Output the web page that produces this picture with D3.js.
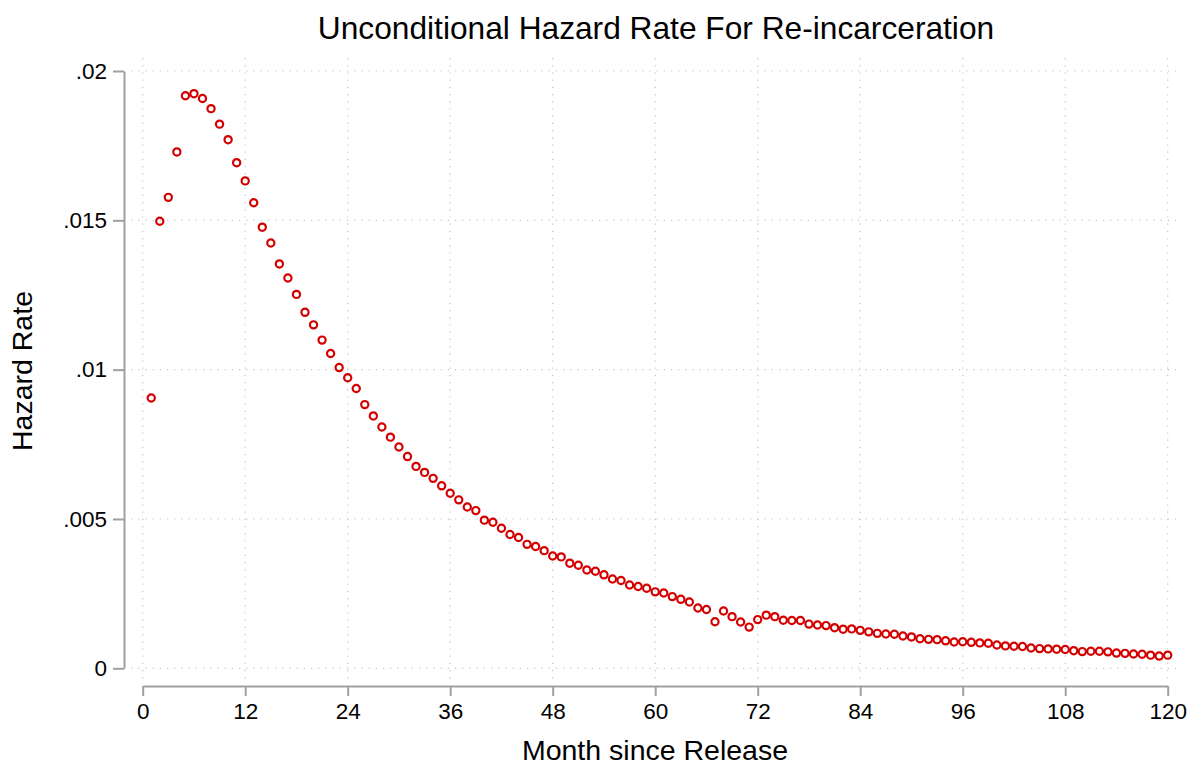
<!DOCTYPE html>
<html><head><meta charset="utf-8">
<script src="https://cdn.jsdelivr.net/npm/d3@7"></script>
<style>body{margin:0;background:#fff;font-family:"Liberation Sans",Arial,sans-serif;}</style>
</head><body><svg id="c" width="1196" height="766"></svg>
<script>
const months = d3.range(1,121);
const hazard = [
0.00905,0.01497,0.01577,0.01729,0.01917,0.01924,0.01908,0.01874,0.01822,0.01770,
0.01693,0.01632,0.01559,0.01477,0.01424,0.01354,0.01307,0.01252,0.01192,0.01150,
0.01099,0.01054,0.01007,0.00973,0.00937,0.00883,0.00845,0.00808,0.00774,0.00741,
0.00709,0.00676,0.00656,0.00636,0.00611,0.00586,0.00564,0.00540,0.00528,0.00496,
0.00489,0.00469,0.00448,0.00438,0.00415,0.00408,0.00394,0.00376,0.00373,0.00352,
0.00345,0.00329,0.00325,0.00313,0.00299,0.00294,0.00279,0.00274,0.00268,0.00256,
0.00252,0.00240,0.00231,0.00222,0.00202,0.00197,0.00156,0.00192,0.00173,0.00155,
0.00138,0.00163,0.00178,0.00173,0.00161,0.00160,0.00160,0.00148,0.00145,0.00143,
0.00136,0.00131,0.00132,0.00127,0.00122,0.00117,0.00115,0.00114,0.00108,0.00105,
0.00099,0.00097,0.00096,0.00092,0.00088,0.00089,0.00087,0.00085,0.00084,0.00078,
0.00075,0.00074,0.00073,0.00068,0.00066,0.00065,0.00064,0.00063,0.00059,0.00056,
0.00057,0.00057,0.00055,0.00051,0.00050,0.00048,0.00047,0.00044,0.00041,0.00044];
const xTicks = [0,12,24,36,48,60,72,84,96,108,120];
const yTicks = [0,0.005,0.01,0.015,0.02];
const yTickLabels = ["0",".005",".01",".015",".02"];

const svg = d3.select("#c");
const x = d3.scaleLinear().domain([0,120]).range([142.7,1167.7]);
const y = d3.scaleLinear().domain([0,0.02]).range([668.3,71]);
const axisColor = "#a0a0a0";
const gridColor = "#c4c4c4";
const font = "Liberation Sans, Arial, sans-serif";

// grid
svg.append("g").selectAll("line").data(yTicks).join("line")
  .attr("x1",131).attr("x2",1182).attr("y1",d=>y(d)).attr("y2",d=>y(d))
  .attr("stroke",gridColor).attr("stroke-width",1.2).attr("stroke-dasharray","1.2,6");
svg.append("g").selectAll("line").data(xTicks).join("line")
  .attr("x1",d=>x(d)).attr("x2",d=>x(d)).attr("y1",58).attr("y2",680)
  .attr("stroke",gridColor).attr("stroke-width",1.2).attr("stroke-dasharray","1.2,6");

// y axis
const yAxis = d3.axisLeft(y).tickValues(yTicks).tickFormat((d,i)=>yTickLabels[i]).tickSize(11).tickPadding(6).tickSizeOuter(0);
const gy = svg.append("g").attr("transform","translate(124,0)").call(yAxis);
gy.select(".domain").attr("stroke",axisColor).attr("stroke-width",2);
gy.selectAll(".tick line").attr("stroke",axisColor).attr("stroke-width",2);
gy.selectAll("text").attr("font-size",22.5).attr("fill","#000").attr("font-family",font);

// x axis
const xAxis = d3.axisBottom(x).tickValues(xTicks).tickSize(10).tickPadding(7).tickSizeOuter(0);
const gx = svg.append("g").attr("transform","translate(0,686)").call(xAxis);
gx.select(".domain").attr("stroke",axisColor).attr("stroke-width",2);
gx.selectAll(".tick line").attr("stroke",axisColor).attr("stroke-width",2);
gx.selectAll("text").attr("font-size",22.5).attr("fill","#000").attr("font-family",font);

// points
svg.append("g").selectAll("circle").data(months).join("circle")
  .attr("cx",(d,i)=>x(d)).attr("cy",(d,i)=>y(hazard[i])).attr("r",3.6)
  .attr("fill","none").attr("stroke","#d40000").attr("stroke-width",2.2);

// titles
svg.append("text").attr("x",656).attr("y",39).attr("text-anchor","middle").attr("font-family",font)
  .attr("font-size",31.7).attr("fill","#000").text("Unconditional Hazard Rate For Re-incarceration");
svg.append("text").attr("x",655).attr("y",760).attr("text-anchor","middle").attr("font-family",font)
  .attr("font-size",28.5).attr("fill","#000").text("Month since Release");
svg.append("text").attr("transform","translate(32.3,371) rotate(-90)").attr("text-anchor","middle").attr("font-family",font)
  .attr("font-size",28.5).attr("fill","#000").text("Hazard Rate");
</script></body></html>
